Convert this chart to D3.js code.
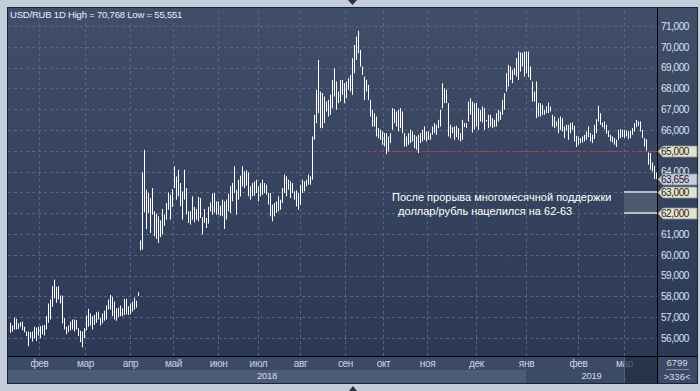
<!DOCTYPE html>
<html>
<head>
<meta charset="utf-8">
<script src="https://cdn.jsdelivr.net/npm/d3@7"></script>
<style>
  body { margin: 0; background: #c4cedb; }
  svg { display: block; font-family: "Liberation Sans", Arial, sans-serif; }
</style>
</head>
<body>
<div id="chart"></div>
<script>
// daily USD/RUB bars, high / low (thousands shown as "70,768")
var highs = [
  56.73,56.60,56.98,56.92,56.70,56.76,56.79,56.54,56.31,56.31,
  56.28,56.31,56.54,56.50,56.54,56.57,56.60,56.63,57.05,57.66,
  57.85,58.49,58.81,58.46,58.49,58.04,58.04,56.95,56.54,56.60,
  56.79,56.89,56.89,56.86,56.47,56.35,56.31,56.47,57.08,57.40,
  57.18,57.05,57.11,57.24,57.27,56.95,57.18,57.31,57.56,57.85,
  58.07,57.98,57.75,57.43,57.46,57.56,57.43,57.88,57.88,57.53,
  57.66,57.75,57.94,57.79,58.20,60.69,63.96,65.05,63.13,62.97,
  62.73,63.21,62.09,61.98,61.85,61.65,62.20,61.93,62.49,63.00,
  62.89,63.16,64.25,63.77,64.09,63.45,63.05,64.09,63.21,62.09,
  62.09,62.81,62.30,62.20,62.78,62.73,61.81,62.20,61.77,62.30,
  62.52,62.94,62.97,62.57,62.57,62.36,62.65,62.57,62.65,62.94,
  63.29,63.45,64.25,63.13,63.61,63.80,64.25,64.01,64.06,63.96,
  63.29,63.45,63.53,63.61,63.29,63.45,63.61,63.45,63.37,62.97,
  62.97,62.41,62.49,62.57,62.81,62.65,63.21,63.85,63.77,63.61,
  63.53,63.45,63.05,63.10,62.97,63.37,63.61,63.53,63.61,63.85,
  63.77,
  65.69,66.73,67.93,69.37,67.85,67.77,67.61,67.37,67.45,67.69,
  68.41,68.97,68.33,67.85,68.41,68.41,68.25,68.33,68.49,68.65,
  69.45,70.09,70.49,70.768,69.85,69.05,68.57,68.41,68.17,67.45,
  66.97,66.81,66.65,66.09,66.01,65.93,65.85,65.85,65.69,65.85,
  67.05,67.00,66.89,66.97,67.05,66.89,65.85,65.69,65.85,66.01,
  65.93,65.77,65.69,65.77,65.85,66.01,66.17,65.93,65.93,65.85,
  66.17,66.33,66.25,66.49,66.97,68.25,68.01,67.93,
  67.29,66.25,66.14,66.17,66.20,66.09,65.85,66.49,66.33,66.33,
  67.37,67.53,67.37,67.29,67.29,67.05,66.97,67.13,67.05,66.49,
  66.73,66.73,66.57,66.49,66.81,66.97,66.89,67.45,67.77,68.73,
  69.13,69.05,68.89,68.97,69.45,69.77,69.72,69.72,69.77,69.77,
  69.77,69.05,68.33,67.85,68.33,67.29,67.29,67.21,66.97,67.13,
  67.32,67.13,66.73,66.65,66.41,66.57,66.65,66.57,66.17,66.25,
  66.25,66.33,66.36,66.20,65.72,65.69,65.61,65.69,65.77,65.93,
  66.17,65.85,65.77,66.25,66.52,67.16,66.81,66.36,66.41,66.25,
  65.97,65.77,65.69,65.61,65.53,66.01,66.04,66.01,66.01,65.97,
  65.93,65.97,66.09,66.33,66.49,66.41,66.41,66.01,65.61,65.56,
  64.92,64.89,64.44,64.28,63.96
];
var lows = [
  56.25,56.31,56.41,56.41,56.44,56.54,56.37,56.28,56.09,55.60,
  55.99,55.83,55.99,55.86,56.12,55.99,56.18,56.12,56.41,56.73,
  56.89,57.50,57.91,57.69,57.85,57.66,56.70,56.41,56.18,56.28,
  56.37,56.41,56.31,56.41,56.09,55.80,55.551,55.99,56.37,56.54,
  56.60,56.41,56.63,56.73,56.89,56.60,56.70,56.83,56.89,57.37,
  57.37,57.05,56.89,56.83,57.02,57.05,57.05,57.11,57.14,57.11,
  57.14,57.27,57.37,57.46,58.01,60.21,60.25,62.04,61.24,62.01,
  61.05,61.93,60.89,60.76,60.57,60.85,60.97,61.40,61.69,62.17,
  61.69,62.30,63.21,62.65,62.81,62.33,61.69,62.65,61.93,61.53,
  61.45,61.69,61.56,61.69,61.61,61.77,60.97,61.53,61.29,61.50,
  62.09,61.93,62.04,61.93,61.93,61.88,61.85,61.24,61.69,62.09,
  62.01,62.57,62.97,61.93,62.65,62.81,63.29,63.21,63.32,62.81,
  62.65,62.81,62.84,62.97,62.57,62.81,62.89,62.97,62.89,62.41,
  61.85,61.61,61.85,62.01,62.09,62.17,62.49,62.97,62.81,63.13,
  62.73,62.97,62.65,62.33,62.17,62.41,62.97,63.05,63.29,63.37,
  63.37,
  63.61,65.53,66.33,66.81,66.09,66.09,66.33,66.89,66.65,66.73,
  67.05,67.61,66.97,67.29,67.37,67.69,67.29,67.53,67.93,67.85,
  67.69,68.73,69.37,69.69,69.05,68.65,67.45,67.85,67.45,66.65,
  66.17,66.17,65.69,65.61,65.53,65.29,65.21,64.84,64.97,65.37,
  66.01,66.33,66.17,65.93,66.09,65.85,65.21,65.21,65.29,65.37,
  65.45,65.13,65.05,64.89,65.37,65.45,65.53,65.45,65.53,65.53,
  65.77,65.85,65.77,66.09,66.17,67.05,67.29,67.29,
  65.69,65.61,65.85,65.53,65.66,65.53,65.45,65.53,66.14,66.09,
  66.41,66.73,65.88,66.01,66.17,66.01,66.41,66.36,66.01,66.41,
  66.09,66.17,66.09,66.14,66.17,66.41,66.49,66.73,66.97,67.85,
  68.09,68.41,68.25,68.65,68.57,68.41,68.81,69.05,68.57,68.73,
  68.54,68.41,67.37,67.37,66.57,66.65,66.65,66.73,66.73,66.81,
  66.81,66.89,66.17,66.09,66.17,65.85,66.01,65.93,65.61,65.97,
  65.53,65.85,66.01,65.45,65.18,65.29,65.37,65.40,65.45,65.53,
  65.66,65.45,65.37,65.56,65.85,66.41,66.25,66.14,66.04,65.82,
  65.66,65.45,65.40,65.29,65.18,65.53,65.61,65.66,65.61,65.69,
  65.56,65.61,65.77,65.93,66.14,66.20,65.93,65.61,65.21,65.01,
  64.33,64.09,64.01,63.64,63.64
];
var lastClose = 63.656;

// month starts, as bar positions
var monthLabels = ["фев","мар","апр","май","июн","июл","авг","сен","окт","ноя","дек","янв","фев","мар"];
var monthIdx = [14.5, 37.5, 60, 81.5, 104, 124, 145, 167.5, 186.5, 208.5, 233, 258, 284, 307];
var yearLabels = ["2018", "2019"];
var yTicks = [56,57,58,59,60,61,62,63,64,65,66,67,68,69,70,71];

// drawn levels
var supportLevel = 65;
var supportStartIdx = 181.5;
var targetHigh = 63, targetLow = 62;
var targetStartIdx = 307;
var noteLines = ["После прорыва многомесячной поддержки", "  доллар/рубль нацелился на 62-63"];
var barsCount = "6799", barsShown = ">336<";

var svgWidth = 700, svgHeight = 391;
var plot = { left: 8, top: 8, right: 657, bottom: 356 };
var axisRight = 697, stripBottom = 383;

var fmt = function(v) { return d3.format(".3f")(v).replace(".", ","); };

var svg = d3.select("#chart").append("svg")
  .attr("width", svgWidth)
  .attr("height", svgHeight);

var defs = svg.append("defs");
var grad = defs.append("linearGradient").attr("id", "bg")
  .attr("x1", 0).attr("y1", 0).attr("x2", 0).attr("y2", 1);
grad.append("stop").attr("offset", "0%").attr("stop-color", "#404e69");
grad.append("stop").attr("offset", "100%").attr("stop-color", "#2c3956");

// frame
svg.append("rect").attr("width", svgWidth).attr("height", svgHeight).attr("fill", "#c4cedb");
svg.append("rect")
  .attr("x", plot.left - 1).attr("y", plot.top - 1)
  .attr("width", axisRight - plot.left + 2).attr("height", stripBottom - plot.top + 2)
  .attr("fill", "#1c2230");
svg.append("rect")
  .attr("x", plot.left).attr("y", plot.top)
  .attr("width", axisRight - plot.left).attr("height", plot.bottom - plot.top)
  .attr("fill", "url(#bg)");

var x = d3.scaleLinear().domain([0, highs.length - 1]).range([10, 656]);
var y = d3.scaleLinear().domain([56, 71]).range([338, 26]);

var chartGroup = svg.append("g");

// grid
chartGroup.append("g")
  .attr("class", "grid")
  .attr("transform", `translate(${plot.left}, 0)`)
  .call(d3.axisLeft(y).tickValues(yTicks).tickSize(-(plot.right - plot.left)).tickFormat(""))
  .call(g => g.select(".domain").remove());
chartGroup.append("g")
  .attr("class", "grid")
  .attr("transform", `translate(0, ${plot.bottom})`)
  .call(d3.axisBottom(x).tickValues(monthIdx).tickSize(-(plot.bottom - plot.top)).tickFormat(""))
  .call(g => g.select(".domain").remove());
chartGroup.selectAll(".grid line")
  .attr("stroke", "#58667f")
  .attr("stroke-dasharray", "3,3")
  .attr("shape-rendering", "crispEdges");

// target zone 62-63
chartGroup.append("rect")
  .attr("x", x(targetStartIdx)).attr("y", y(targetHigh))
  .attr("width", plot.right - x(targetStartIdx)).attr("height", y(targetLow) - y(targetHigh))
  .attr("fill", "#4e596f");
[targetHigh, targetLow].forEach(function(v) {
  chartGroup.append("line")
    .attr("x1", x(targetStartIdx)).attr("x2", plot.right)
    .attr("y1", Math.round(y(v))).attr("y2", Math.round(y(v)))
    .attr("stroke", "#b9bdc8").attr("stroke-width", 2);
});

// support line
chartGroup.append("line")
  .attr("x1", x(supportStartIdx)).attr("x2", plot.right)
  .attr("y1", Math.round(y(supportLevel)) + 0.5).attr("y2", Math.round(y(supportLevel)) + 0.5)
  .attr("stroke", "#c8323a").attr("stroke-dasharray", "4,3");

// bars
chartGroup.selectAll(".bar")
  .data(highs)
  .enter()
  .append("line")
  .attr("class", "bar")
  .attr("x1", (d, i) => Math.round(x(i)) + 0.5)
  .attr("x2", (d, i) => Math.round(x(i)) + 0.5)
  .attr("y1", d => y(d))
  .attr("y2", (d, i) => y(lows[i]))
  .attr("stroke", "#ffffff")
  .attr("stroke-width", 1);

// note
noteLines.forEach(function(t, i) {
  chartGroup.append("text")
    .attr("x", 392).attr("y", 201 + i * 14)
    .attr("fill", "#ffffff")
    .attr("font-size", "11px")
    .attr("xml:space", "preserve")
    .style("white-space", "pre")
    .text(t);
});

// title
svg.append("text")
  .attr("x", 10).attr("y", 18)
  .attr("fill", "#e9eef7")
  .attr("font-size", "9.5px")
  .attr("letter-spacing", "-0.2px")
  .text("USD/RUB 1D High = " + fmt(d3.max(highs)) + " Low = " + fmt(d3.min(lows)));

// bottom strip
svg.append("rect")
  .attr("x", plot.left).attr("y", plot.bottom)
  .attr("width", plot.right - plot.left).attr("height", stripBottom - plot.bottom)
  .attr("fill", "#3b4a66");
var janX = x(monthIdx[11]);
svg.append("rect")
  .attr("x", plot.left).attr("y", 370)
  .attr("width", janX - plot.left).attr("height", stripBottom - 370)
  .attr("fill", "#4c5b77");

var xAxis = svg.append("g")
  .attr("transform", `translate(0, ${plot.bottom})`)
  .call(d3.axisBottom(x).tickValues(monthIdx).tickSize(0).tickPadding(4)
    .tickFormat((d, i) => monthLabels[i]));
xAxis.select(".domain").remove();
xAxis.selectAll("text")
  .attr("fill", "#cbd4e3")
  .attr("font-size", "10px")
  .attr("letter-spacing", "-0.3px")
  .attr("font-family", "Liberation Sans, Arial, sans-serif");

[[plot.left, janX], [janX, plot.right]].forEach(function(seg, i) {
  svg.append("text")
    .attr("x", (seg[0] + seg[1]) / 2).attr("y", 379)
    .attr("text-anchor", "middle")
    .attr("fill", "#d4dbe7")
    .attr("font-size", "9.5px")
    .attr("letter-spacing", "-0.3px")
    .text(yearLabels[i]);
});

// scroll handle in the strip
svg.append("rect")
  .attr("x", x(monthIdx[13])).attr("y", plot.bottom + 1)
  .attr("width", plot.right - x(monthIdx[13])).attr("height", stripBottom - plot.bottom - 1)
  .attr("fill", "#1f2a40").attr("opacity", 0.7);
svg.append("line")
  .attr("x1", Math.round(x(monthIdx[13])) + 0.5).attr("x2", Math.round(x(monthIdx[13])) + 0.5)
  .attr("y1", plot.bottom + 1).attr("y2", stripBottom)
  .attr("stroke", "#56627a");

// separators
svg.append("line")
  .attr("x1", plot.left).attr("x2", axisRight)
  .attr("y1", plot.bottom + 0.5).attr("y2", plot.bottom + 0.5)
  .attr("stroke", "#000000");
svg.append("line")
  .attr("x1", plot.right + 0.5).attr("x2", plot.right + 0.5)
  .attr("y1", plot.top).attr("y2", stripBottom)
  .attr("stroke", "#000000");

// right axis
var yAxis = svg.append("g")
  .attr("transform", `translate(${plot.right}, 0)`)
  .call(d3.axisRight(y).tickValues(yTicks).tickSize(0).tickPadding(4).tickFormat(fmt));
yAxis.select(".domain").remove();
yAxis.selectAll("text")
  .attr("fill", "#dbe5f3")
  .attr("font-size", "10px")
  .attr("letter-spacing", "-0.45px")
  .attr("font-family", "Liberation Sans, Arial, sans-serif");

// price tags
var tags = [
  { v: supportLevel, fill: "#e6e4c6" },
  { v: targetHigh, fill: "#e6e4c6" },
  { v: targetLow, fill: "#e6e4c6" },
  { v: lastClose, fill: "#c9cdd9" }
];
tags.forEach(function(t) {
  var cy = Math.round(y(t.v)) + 0.5;
  var x0 = plot.right + 1;
  svg.append("polygon")
    .attr("points", [[x0, cy], [x0 + 5, cy - 5.5], [axisRight, cy - 5.5], [axisRight, cy + 5.5], [x0 + 5, cy + 5.5]].join(" "))
    .attr("fill", t.fill)
    .attr("stroke", "#8a8f9c")
    .attr("stroke-width", 0.8);
  svg.append("text")
    .attr("x", x0 + 3).attr("y", cy + 3.8)
    .attr("fill", "#1e2230")
    .attr("font-size", "10px")
    .attr("letter-spacing", "-0.45px")
    .text(fmt(t.v));
});

// corner box
svg.append("rect")
  .attr("x", plot.right + 1).attr("y", plot.bottom + 1)
  .attr("width", axisRight - plot.right - 1).attr("height", stripBottom - plot.bottom - 1)
  .attr("fill", "#3b4a66");
svg.append("text")
  .attr("x", 677).attr("y", 366).attr("text-anchor", "middle")
  .attr("fill", "#d4dbe7").attr("font-size", "9.5px").text(barsCount);
svg.append("line")
  .attr("x1", 666).attr("x2", 689).attr("y1", 369.5).attr("y2", 369.5)
  .attr("stroke", "#7d8aa2");
svg.append("text")
  .attr("x", 677).attr("y", 380).attr("text-anchor", "middle")
  .attr("fill", "#d4dbe7").attr("font-size", "9.5px").text(barsShown);

// little scroll arrows on the frame
svg.append("path").attr("d", "M348,0 L357,0 L352.5,5 Z").attr("fill", "#2a3142");
svg.append("path").attr("d", "M349,391 L357,391 L353,386 Z").attr("fill", "#2a3142");
</script>
</body>
</html>
